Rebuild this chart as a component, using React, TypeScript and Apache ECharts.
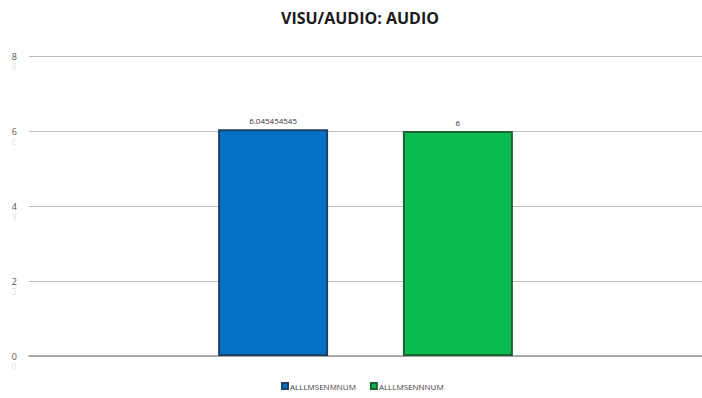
import React, { useEffect, useRef } from "react";
import * as echarts from "echarts";

const title = "VISU/AUDIO: AUDIO";
const categories = [""];
const seriesNames = ["ALLLMSENMNUM", "ALLLMSENNNUM"];
const seriesValues = [[6.045454545], [6]];
const seriesColors = ["#0470C6", "#0ABB52"];
const seriesBorders = ["#1B4169", "#1D6234"];
const yTicks = [0, 2, 4, 6, 8];

export default function App() {
  const ref = useRef<HTMLDivElement>(null);
  useEffect(() => {
    if (!ref.current) return;
    const chart = echarts.init(ref.current, undefined, { renderer: "svg" });
    const font = "'Open Sans', 'Liberation Sans', sans-serif";
    chart.setOption({
      animation: false,
      backgroundColor: "#ffffff",
      title: {
        text: title,
        left: 276,
        top: 5,
        textStyle: { fontFamily: font, fontSize: 16, fontWeight: "bold", color: "#1a1a1a" },
      },
      grid: { left: 29, right: 0, top: 56, bottom: 42, containLabel: false },
      legend: {
        top: 377,
        left: 276,
        itemWidth: 6,
        itemHeight: 6,
        itemGap: 14,
        icon: "rect",
        textStyle: { fontFamily: font, fontSize: 8, color: "#404040", padding: [0, 0, 0, -3] },
        data: seriesNames,
      },
      xAxis: {
        type: "category",
        data: categories,
        axisLine: { show: true, lineStyle: { color: "#9a9a9a", width: 1.5 } },
        axisTick: { show: false },
        axisLabel: { show: false },
      },
      yAxis: {
        type: "value",
        min: 0,
        max: 8,
        interval: 2,
        axisLine: { show: false },
        axisTick: { show: false },
        splitLine: { lineStyle: { color: "#bdbdbd", width: 1 } },
        axisLabel: { fontFamily: font, fontSize: 9, color: "#555555", margin: 12 },
      },
      series: seriesNames.map((name, i) => ({
        name,
        type: "bar",
        data: seriesValues[i],
        barWidth: 110,
        barGap: "68%",
        itemStyle: {
          color: seriesColors[i],
          borderColor: seriesBorders[i],
          borderWidth: 2,
        },
        label: {
          show: true,
          position: "top",
          distance: 5,
          fontFamily: font,
          fontSize: 8,
          color: "#333333",
        },
      })),
    });
    // faint mirrored reflections of the axis labels
    const graphics: any[] = [];
    yTicks.forEach((v) => {
      const p = chart.convertToPixel({ yAxisIndex: 0 }, v) as number;
      graphics.push({
        type: "text",
        x: 14,
        y: p + 6,
        scaleY: -1,
        silent: true,
        style: {
          text: String(v),
          fontFamily: font,
          fontSize: 9,
          fill: "rgba(120,120,120,0.25)",
          align: "center",
          verticalAlign: "bottom",
        },
      });
    });
    chart.setOption({ graphic: graphics });
    return () => chart.dispose();
  }, []);
  return <div ref={ref} style={{ width: 702, height: 398, position: "absolute", left: 0, top: 0 }} />;
}
